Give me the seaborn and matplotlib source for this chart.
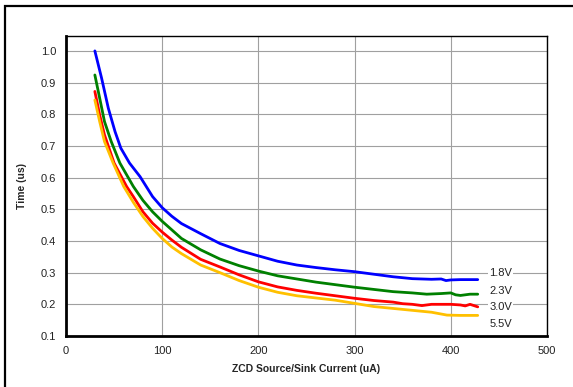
"""
ZCD response time vs source/sink current, one curve per supply voltage.
"""
import matplotlib
matplotlib.use("Agg")
import matplotlib.pyplot as plt
import matplotlib.patches as mpatches
import pandas as pd
import seaborn as sns

# Data
current_18 = [30, 37, 44, 51, 57, 66, 77, 90, 100, 110, 120, 140, 160, 180, 200,
              220, 240, 260, 280, 300, 320, 340, 360, 380, 390, 395, 400, 410, 420, 428]
time_18 = [1.0, 0.914, 0.819, 0.745, 0.693, 0.646, 0.603, 0.54, 0.505, 0.478, 0.455,
           0.423, 0.392, 0.37, 0.353, 0.336, 0.324, 0.316, 0.309, 0.303, 0.295, 0.287, 0.281,
           0.279, 0.28, 0.275, 0.277, 0.278, 0.278, 0.278]

current_23 = [30, 35, 40, 47, 56, 70, 80, 90, 100, 110, 120, 140, 160, 180, 200, 220,
              240, 260, 280, 300, 320, 340, 360, 375, 390, 400, 405, 410, 420, 428]
time_23 = [0.924, 0.851, 0.777, 0.714, 0.646, 0.572, 0.528, 0.492, 0.462, 0.435, 0.408,
           0.372, 0.343, 0.322, 0.305, 0.29, 0.28, 0.27, 0.262, 0.254, 0.247, 0.24, 0.236,
           0.232, 0.234, 0.236, 0.23, 0.228, 0.232, 0.232]

current_30 = [30, 35, 40, 50, 63, 70, 80, 90, 100, 110, 120, 140, 160, 180, 200, 220,
              240, 260, 280, 300, 320, 340, 350, 360, 370, 380, 400, 410, 415, 420, 428]
time_30 = [0.872, 0.798, 0.735, 0.646, 0.572, 0.54, 0.492, 0.456, 0.428, 0.403,
           0.38, 0.342, 0.318, 0.293, 0.271, 0.255, 0.244, 0.235, 0.227, 0.219, 0.212, 0.207,
           0.202, 0.2, 0.196, 0.2, 0.2, 0.198, 0.195, 0.2, 0.192]

current_55 = [30, 35, 40, 49, 60, 70, 80, 90, 100, 110, 120, 140, 160, 180, 200, 220,
              240, 260, 280, 300, 320, 340, 360, 380, 396, 410, 428]
time_55 = [0.845, 0.777, 0.714, 0.646, 0.572, 0.522, 0.477, 0.44, 0.408, 0.381, 0.36,
           0.324, 0.3, 0.275, 0.254, 0.238, 0.227, 0.22, 0.213, 0.203, 0.193, 0.187, 0.181,
           0.175, 0.166, 0.165, 0.165]

voltages = ["1.8V", "2.3V", "3.0V", "5.5V"]
label_y = [0.300, 0.242, 0.191, 0.138]
colors = {"1.8V": "#0000FF", "2.3V": "#008000", "3.0V": "#FF0000", "5.5V": "#FFC000"}

x_ticks = [0, 100, 200, 300, 400, 500]
y_ticks = [0.1, 0.2, 0.3, 0.4, 0.5, 0.6, 0.7, 0.8, 0.9, 1.0]

# Build long-form table for seaborn
frames = []
for v, xs, ys in zip(voltages,
                     [current_18, current_23, current_30, current_55],
                     [time_18, time_23, time_30, time_55]):
    frames.append(pd.DataFrame({"current": xs, "time": ys, "voltage": v}))
df = pd.concat(frames, ignore_index=True)

sns.set_theme(style="white")
plt.rcParams["font.family"] = ["Liberation Sans", "DejaVu Sans"]

fig = plt.figure(figsize=(5.73, 3.87), dpi=100)
ax = fig.add_axes([66 / 573, 1 - 336 / 387, (547 - 66) / 573, (336 - 36) / 387])

# Outer frame: only left and top edges fall inside the image
fig.patches.append(mpatches.Rectangle((5 / 573, -0.1), 1.2, 1.1 - 6 / 387,
                                      transform=fig.transFigure, fill=False,
                                      edgecolor="black", linewidth=1.6))

sns.lineplot(data=df, x="current", y="time", hue="voltage", palette=colors,
             linewidth=2.0, legend=False, ax=ax, sort=False, estimator=None)

ax.set_xlim(0, 500)
ax.set_ylim(0.1, 1.047)
ax.set_xticks(x_ticks)
ax.set_yticks(y_ticks)
ax.set_yticklabels([f"{t:.1f}" for t in y_ticks])
ax.grid(True, color="#a0a0a0", linewidth=0.8)
ax.set_axisbelow(True)

for side in ["left", "bottom"]:
    ax.spines[side].set_linewidth(2.0)
for side in ["top", "right"]:
    ax.spines[side].set_linewidth(1.0)
for side in ax.spines:
    ax.spines[side].set_color("black")

ax.tick_params(axis="both", labelsize=8, colors="#222222", length=0, pad=7)
ax.set_xlabel("ZCD Source/Sink Current (uA)", fontsize=7.5, fontweight="bold", labelpad=6)
ax.set_ylabel("Time (us)", fontsize=7.5, fontweight="bold", labelpad=10)

for v, ly in zip(voltages, label_y):
    ax.text(440, ly, v, fontsize=8, color="#222222", va="center", ha="left",
            bbox=dict(facecolor="white", edgecolor="none", pad=1.0))

fig.savefig("out.png", dpi=100)
